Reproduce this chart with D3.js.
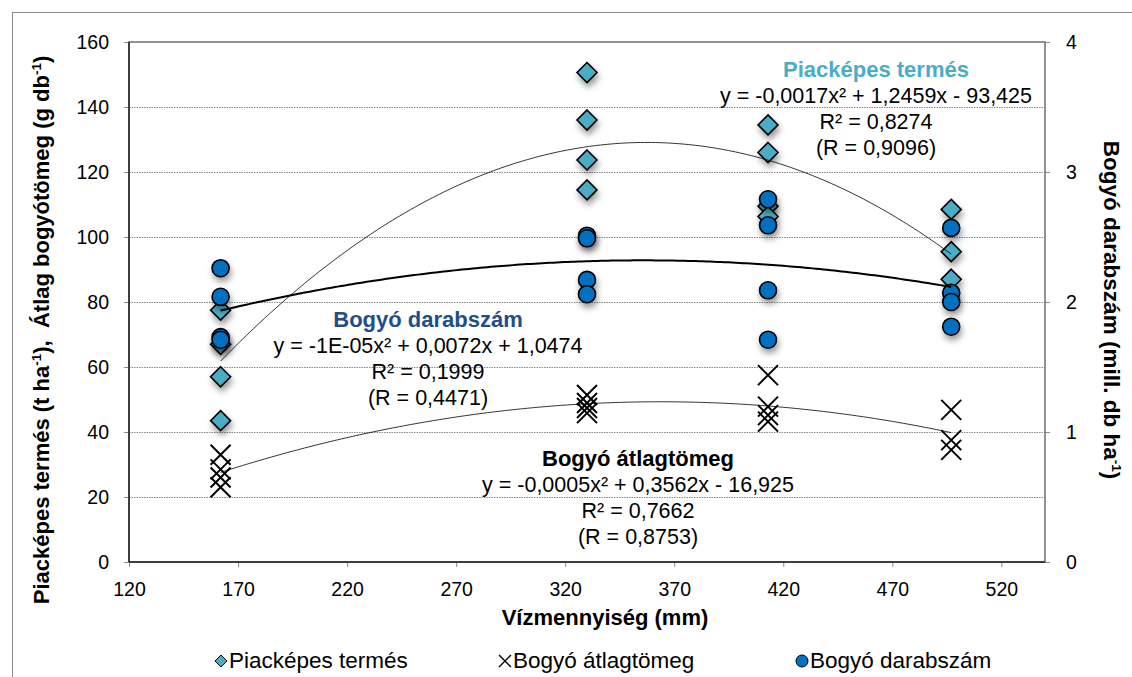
<!DOCTYPE html>
<html><head><meta charset="utf-8">
<script src="https://cdn.jsdelivr.net/npm/d3@7"></script>
<style>
body{margin:0;background:#fff}
text{font-family:"Liberation Sans",Arial,Helvetica,sans-serif;fill:#000}
</style>
</head><body>
<svg id="chart" width="1132" height="677"></svg>
<script>
// ---- data ----
const water = [162, 330, 413, 497];
const piackepes = [[77.5, 67, 57, 43.5], [150.6, 136, 123.7, 114.5], [134.5, 126, 109.5, 106.3], [108.5, 95.5, 87]];
const atlagtomeg = [[33, 28.5, 26, 23], [51.4, 48.9, 47.4, 45.8], [57.5, 47.8, 45.2, 43.2], [46.8, 37.5, 34.5]];
const darabszam = [[2.26, 2.04, 1.73, 1.71], [2.51, 2.49, 2.17, 2.06], [2.79, 2.59, 2.09, 1.71], [2.57, 2.07, 2.0, 1.81]];
const xTicks = [120, 170, 220, 270, 320, 370, 420, 470, 520];
const yLeftTicks = [0, 20, 40, 60, 80, 100, 120, 140, 160];
const yRightTicks = [0, 1, 2, 3, 4];
const seriesNames = ["Piacképes termés", "Bogyó átlagtömeg", "Bogyó darabszám"];
const annPiac = ["Piacképes termés", "y = -0,0017x² + 1,2459x - 93,425", "R² = 0,8274", "(R = 0,9096)"];
const annDarab = ["Bogyó darabszám", "y = -1E-05x² + 0,0072x + 1,0474", "R² = 0,1999", "(R = 0,4471)"];
const annAtlag = ["Bogyó átlagtömeg", "y = -0,0005x² + 0,3562x - 16,925", "R² = 0,7662", "(R = 0,8753)"];

// ---- layout ----
const svg = d3.select("#chart");
const L = 129, R = 1045, T = 42, B = 562;
const x = d3.scaleLinear().domain([120, 540]).range([L, R]);
const yL = d3.scaleLinear().domain([0, 160]).range([B, T]);
const yR = d3.scaleLinear().domain([0, 4]).range([B, T]);

const defs = svg.append("defs");
const f = defs.append("filter").attr("id", "sh").attr("x", "-60%").attr("y", "-60%").attr("width", "240%").attr("height", "260%");
f.append("feDropShadow").attr("dx", 1.5).attr("dy", 4.5).attr("stdDeviation", 3).attr("flood-color", "#000").attr("flood-opacity", 0.4);

// outer border
svg.append("rect").attr("x", 12.5).attr("y", 12.5).attr("width", 1140).attr("height", 700)
  .attr("fill", "none").attr("stroke", "#8c8c8c").attr("stroke-width", 1);

// gridlines
svg.append("g").selectAll("line").data(yLeftTicks.filter(d => d > 0 && d < 160)).join("line")
  .attr("x1", L).attr("x2", R).attr("y1", d => yL(d) + 0.5).attr("y2", d => yL(d) + 0.5)
  .attr("stroke", "#8a8a8a").attr("stroke-width", 1).attr("stroke-dasharray", "1.5,1");

// axes
const axL = svg.append("g").attr("transform", `translate(${L},0)`)
  .call(d3.axisLeft(yL).tickValues(yLeftTicks).tickSize(5).tickPadding(15).tickFormat(d3.format("d")));
const axR = svg.append("g").attr("transform", `translate(${R},0)`)
  .call(d3.axisRight(yR).tickValues(yRightTicks).tickSize(5).tickPadding(16).tickFormat(d3.format("d")));
const axB = svg.append("g").attr("transform", `translate(0,${B})`)
  .call(d3.axisBottom(x).tickValues(xTicks).tickSize(5).tickPadding(15).tickFormat(d3.format("d")));
[axL, axR, axB].forEach(a => {
  a.select(".domain").remove();
  a.selectAll(".tick line").attr("stroke", "#8c8c8c");
  a.selectAll(".tick text").attr("font-size", 19.5).attr("font-family", "Liberation Sans, Arial, sans-serif").attr("fill", "#000");
});
// plot frame
svg.append("rect").attr("x", L).attr("y", T).attr("width", R - L).attr("height", B - T)
  .attr("fill", "none").attr("stroke", "#6f6f6f").attr("stroke-width", 1.5);
svg.append("line").attr("x1", L).attr("x2", L).attr("y1", T).attr("y2", B).attr("stroke", "#222").attr("stroke-width", 1.5);
svg.append("line").attr("x1", L).attr("x2", R).attr("y1", B).attr("y2", B).attr("stroke", "#222").attr("stroke-width", 1.5);

// ---- points ----
function flat(vals) { const out = []; vals.forEach((arr, i) => arr.forEach(v => out.push([water[i], v]))); return out; }
const pPiac = flat(piackepes), pAtlag = flat(atlagtomeg), pDarab = flat(darabszam);

const diamond = r => `M0,${-r}L${r},0L0,${r}L${-r},0Z`;
const gM = svg.append("g");
gM.append("g").selectAll("path").data(pPiac).join("path")
  .attr("transform", d => `translate(${x(d[0])},${yL(d[1])})`).attr("d", diamond(10))
  .attr("fill", "#4bacc6").attr("stroke", "#000").attr("stroke-width", 1.6).attr("filter", "url(#sh)");
const gx = gM.append("g").selectAll("g").data(pAtlag).join("g")
  .attr("transform", d => `translate(${x(d[0])},${yL(d[1])})`);
gx.append("path").attr("d", "M-10,-10L10,10M-10,10L10,-10").attr("stroke", "#000").attr("stroke-width", 2).attr("fill", "none");
gM.append("g").selectAll("circle").data(pDarab).join("circle")
  .attr("cx", d => x(d[0])).attr("cy", d => yR(d[1])).attr("r", 8.5)
  .attr("fill", "#0070c0").attr("stroke", "#000").attr("stroke-width", 1.6).attr("filter", "url(#sh)");

// ---- quadratic trendlines (least squares) ----
function quadFit(pts) {
  const S = Array(5).fill(0), Ty = Array(3).fill(0);
  pts.forEach(([a, b]) => { for (let k = 0; k < 5; k++) S[k] += Math.pow(a, k); for (let k = 0; k < 3; k++) Ty[k] += b * Math.pow(a, k); });
  const M = [[S[0], S[1], S[2], Ty[0]], [S[1], S[2], S[3], Ty[1]], [S[2], S[3], S[4], Ty[2]]];
  for (let i = 0; i < 3; i++) {
    let p = i; for (let r = i + 1; r < 3; r++) if (Math.abs(M[r][i]) > Math.abs(M[p][i])) p = r;
    [M[i], M[p]] = [M[p], M[i]];
    for (let r = 0; r < 3; r++) if (r !== i) { const fct = M[r][i] / M[i][i]; for (let c = i; c < 4; c++) M[r][c] -= fct * M[i][c]; }
  }
  const c0 = M[0][3] / M[0][0], c1 = M[1][3] / M[1][1], c2 = M[2][3] / M[2][2];
  return v => c0 + c1 * v + c2 * v * v;
}
function trend(pts, yS, w) {
  const fn = quadFit(pts);
  const xs = d3.range(0, 201).map(i => water[0] + (water[3] - water[0]) * i / 200);
  svg.append("path").datum(xs).attr("fill", "none").attr("stroke", "#000").attr("stroke-width", w)
    .attr("d", d3.line().x(d => x(d)).y(d => yS(fn(d))));
}
trend(pPiac, yL, 0.8);
trend(pAtlag, yL, 0.8);
trend(pDarab, yR, 2);

// ---- annotations ----
function ann(lines, cx, y0, color) {
  const g = svg.append("g");
  lines.forEach((t, i) => {
    g.append("text").attr("x", cx).attr("y", y0 + i * 26).attr("text-anchor", "middle")
      .attr("font-size", i === 0 ? 22 : 21.5).attr("font-weight", i === 0 ? "bold" : "normal")
      .style("fill", i === 0 ? color : "#000").text(t);
  });
}
ann(annPiac, 876, 77, "#4bacc6");
ann(annDarab, 428, 327, "#1f4e8c");
ann(annAtlag, 638, 466, "#000");

// ---- axis titles ----
const tl = svg.append("text").attr("transform", "translate(49,330) rotate(-90)").attr("text-anchor", "middle")
  .attr("font-size", 22).attr("font-weight", "bold").attr("xml:space", "preserve");
tl.append("tspan").text("Piacképes termés (t ha");
tl.append("tspan").attr("dy", -8).attr("font-size", 13.5).text("-1");
tl.append("tspan").attr("dy", 8).text("),  Átlag bogyótömeg (g db");
tl.append("tspan").attr("dy", -8).attr("font-size", 13.5).text("-1");
tl.append("tspan").attr("dy", 8).text(")");

const tr = svg.append("text").attr("transform", "translate(1104,310) rotate(90)").attr("text-anchor", "middle")
  .attr("font-size", 22.5).attr("font-weight", "bold");
tr.append("tspan").text("Bogyó darabszám (mill. db ha");
tr.append("tspan").attr("dy", -8).attr("font-size", 13.5).text("-1");
tr.append("tspan").attr("dy", 8).text(")");

svg.append("text").attr("x", 605).attr("y", 625).attr("text-anchor", "middle")
  .attr("font-size", 22).attr("font-weight", "bold").text("Vízmennyiség (mm)");

// ---- legend ----
const legX = [221, 505, 802];
const lg = svg.append("g").attr("transform", "translate(0,661)");
lg.append("path").attr("transform", `translate(${legX[0]},0)`).attr("d", diamond(6))
  .attr("fill", "#4bacc6").attr("stroke", "#000").attr("stroke-width", 1);
lg.append("path").attr("transform", `translate(${legX[1]},0)`).attr("d", "M-6,-6L6,6M-6,6L6,-6")
  .attr("stroke", "#000").attr("stroke-width", 1.4);
lg.append("circle").attr("cx", legX[2]).attr("cy", 0).attr("r", 6)
  .attr("fill", "#0070c0").attr("stroke", "#000").attr("stroke-width", 1);
seriesNames.forEach((n, i) => {
  lg.append("text").attr("x", legX[i] + 8).attr("y", 7).attr("font-size", 22.5).text(n);
});
</script>
</body></html>
